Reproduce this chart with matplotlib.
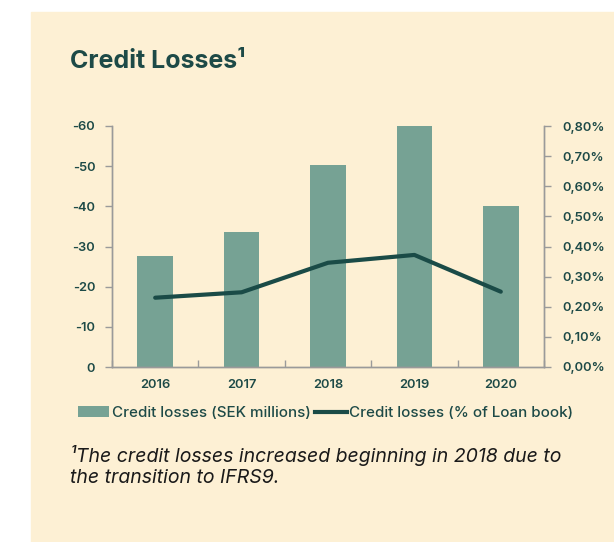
import matplotlib
matplotlib.use('Agg')
import matplotlib.pyplot as plt
from matplotlib.patches import Rectangle, Patch
from matplotlib.lines import Line2D

plt.rcParams['font.family'] = ['Inter', 'DejaVu Sans']
plt.rcParams['axes.unicode_minus'] = False

# data
years = ['2016', '2017', '2018', '2019', '2020']
losses_sek = [-27.7, -33.6, -50.4, -59.9, -40.2]
losses_pct = [0.230, 0.248, 0.346, 0.372, 0.250]
left_ticks = [0, -10, -20, -30, -40, -50, -60]
right_ticks = [0.0, 0.1, 0.2, 0.3, 0.4, 0.5, 0.6, 0.7, 0.8]

bg = '#fdf0d4'
bar_color = '#76a294'
line_color = '#1a4b47'
text_color = '#1d4a47'
spine_color = '#9a9a9a'

W, H = 614, 542
fig = plt.figure(figsize=(W / 100, H / 100), dpi=100, facecolor='white')
fig.patches.append(Rectangle((31 / W, 0), 1 - 31 / W, 1 - 12 / H,
                             transform=fig.transFigure, color=bg, zorder=-10))

ax = fig.add_axes([112 / W, 175 / H, 432 / W, 241 / H])
ax.set_facecolor('none')
x = range(len(years))
ax.bar(x, losses_sek, width=0.41, color=bar_color, zorder=2)
ax.set_xlim(-0.5, len(years) - 0.5)
ax.set_ylim(0, -60)
ax.set_yticks(left_ticks)
ax.set_yticklabels([str(t) for t in left_ticks])
ax.set_xticks(x)
ax.set_xticklabels(years)
ax.set_xticks([i + 0.5 for i in range(-1, len(years))], minor=True)
ax.tick_params(axis='x', which='major', length=0, pad=9)
ax.tick_params(axis='x', which='minor', direction='in', length=5,
               color=spine_color, width=1)
ax.tick_params(axis='y', direction='out', length=5, color=spine_color,
               width=1, pad=7)
for lab in ax.get_xticklabels() + ax.get_yticklabels():
    lab.set_color(text_color)
    lab.set_fontsize(9.3)
    lab.set_fontweight('semibold')

ax2 = ax.twinx()
ax2.plot(x, losses_pct, color=line_color, linewidth=3, zorder=3,
         solid_capstyle='round')
ax2.set_ylim(0, 0.8)
ax2.set_yticks(right_ticks)
ax2.set_yticklabels([('%.2f%%' % t).replace('.', ',') for t in right_ticks])
ax2.tick_params(axis='y', direction='out', length=5, color=spine_color,
                width=1, pad=8)
for lab in ax2.get_yticklabels():
    lab.set_color(text_color)
    lab.set_fontsize(9.3)
    lab.set_fontweight('semibold')

for a in (ax, ax2):
    a.spines['top'].set_visible(False)
    for s in ('left', 'right', 'bottom'):
        a.spines[s].set_color(spine_color)
        a.spines[s].set_linewidth(1)

fig.text(70 / W, 1 - 62 / H, 'Credit Losses\u00b9', fontsize=18,
         fontweight='bold', color=text_color, va='center', ha='left')

handles = [Patch(facecolor=bar_color, edgecolor='none'),
           Line2D([0], [0], color=line_color, linewidth=3)]
fig.legend(handles, ['Credit losses (SEK millions)',
                     'Credit losses (% of Loan book)'],
           loc='center left', bbox_to_anchor=(70 / W, 1 - 413 / H),
           ncol=2, frameon=False, handlelength=2.1, handleheight=0.7,
           handletextpad=0.15, columnspacing=0.3, borderpad=0,
           prop={'size': 10.9, 'weight': 'medium'}, labelcolor=text_color)

fig.text(70 / W, 1 - 466 / H,
         '\u00b9The credit losses increased beginning in 2018 due to\n'
         'the transition to IFRS9.',
         fontsize=14, style='italic', color='#1a1a1a', va='center',
         ha='left', linespacing=1.25)

fig.savefig('out.png', dpi=100, facecolor='white')
